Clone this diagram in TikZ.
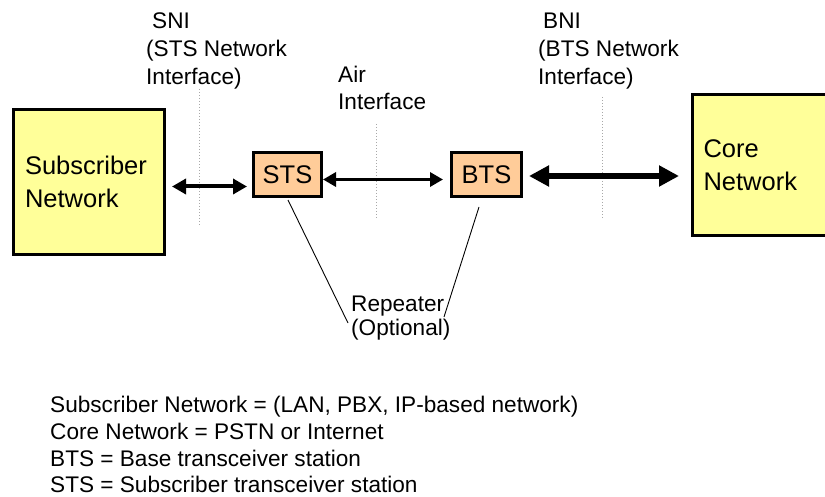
\documentclass[tikz,border=0pt]{standalone}
\usepackage{fontspec}
\setmainfont{Liberation Sans}
\usetikzlibrary{arrows.meta}

\definecolor{netyellow}{HTML}{FFFF99}
\definecolor{stationpeach}{HTML}{FFCC99}
\definecolor{ifgray}{HTML}{A8A8A8}

\tikzset{
  netbox/.style={draw=black, line width=3pt, fill=netyellow, align=left,
    inner ysep=0pt, font=\fontsize{25.5}{33}\selectfont},
  stationbox/.style={draw=black, line width=3pt, fill=stationpeach,
    minimum width=68pt, minimum height=44pt, inner sep=0pt,
    font=\fontsize{25.5}{30}\selectfont},
  label/.style={anchor=base west, inner sep=0pt, font=\fontsize{22.6}{27}\selectfont},
  legend/.style={anchor=base west, inner sep=0pt, font=\fontsize{22.6}{27}\selectfont},
  ifline/.style={draw=ifgray, line width=1pt, dotted},
  pointer/.style={draw=black, line width=0.9pt},
  sniarrow/.style={line width=4pt,
    {Triangle[length=14pt,width=15pt]}-{Triangle[length=14pt,width=15pt]}},
  airarrow/.style={line width=3.8pt,
    {Triangle[length=13pt,width=14pt]}-{Triangle[length=13pt,width=14pt]}},
  bniarrow/.style={line width=6pt,
    {Triangle[length=20pt,width=20pt]}-{Triangle[length=20pt,width=20pt]}},
}

\begin{document}
\begin{tikzpicture}[x=1pt, y=-1pt]
\useasboundingbox (0,0) rectangle (825,497);

% network end points
\node[netbox, text width=128pt, inner xsep=11.5pt, minimum height=145pt]
  (sub) at (89,182) {Subscriber\\Network};
\begin{scope}
  \clip (0,0) rectangle (825,497);
  \node[netbox, text width=138pt, inner xsep=11pt, minimum height=141pt]
    (core) at (772.5,165) {Core\\Network};
\end{scope}

% transceiver stations
\node[stationbox] (sts) at (287.5,174.5) {STS};
\node[stationbox, minimum width=70pt] (bts) at (486.5,174.5) {BTS};

% interface boundaries
\coordinate (sni-top) at (199,89);   \coordinate (sni-bot) at (199,226);
\coordinate (air-top) at (376,124);  \coordinate (air-bot) at (376,219);
\coordinate (bni-top) at (602,97);   \coordinate (bni-bot) at (602,219);
\draw[ifline] (sni-top) -- (sni-bot);
\draw[ifline] (air-top) -- (air-bot);
\draw[ifline] (bni-top) -- (bni-bot);

% links
\coordinate (sni-row) at (0,186.5);
\coordinate (air-row) at (0,179.5);
\coordinate (bni-row) at (0,176);
\draw[sniarrow, shorten <=6pt, shorten >=5pt] (sub.east |- sni-row) -- (sts.west |- sni-row);
\draw[airarrow, shorten >=7pt] (sts.east |- air-row) -- (bts.west |- air-row);
\draw[bniarrow, shorten <=6pt, shorten >=12pt] (bts.east |- bni-row) -- (core.west |- bni-row);

% interface labels
\node[label] (sni1) at (152,29) {SNI};
\node[label] (sni2) at (146,57) {(STS Network};
\node[label] (sni3) at (146,85) {Interface)};
\node[label] (air1) at (338,83) {Air};
\node[label] (air2) at (338,110) {Interface};
\node[label] (bni1) at (543,29) {BNI};
\node[label] (bni2) at (538,57) {(BTS Network};
\node[label] (bni3) at (538,85) {Interface)};

% optional repeater
\node[label] (rep1) at (351,311) {Repeater};
\node[label] (rep2) at (351,335) {(Optional)};
\coordinate (rep-left) at (348,323);
\coordinate (rep-right) at (444,317);
\coordinate (sts-foot) at (288,200);
\coordinate (bts-foot) at (479,207);
\draw[pointer] (sts-foot) -- (rep-left);
\draw[pointer] (bts-foot) -- (rep-right);

% legend
\node[legend] (leg1) at (50,412) {Subscriber Network = (LAN, PBX, IP-based network)};
\node[legend] (leg2) at (50,439) {Core Network = PSTN or Internet};
\node[legend] (leg3) at (50,466) {BTS = Base transceiver station};
\node[legend] (leg4) at (50,492) {STS = Subscriber transceiver station};
\end{tikzpicture}
\end{document}
